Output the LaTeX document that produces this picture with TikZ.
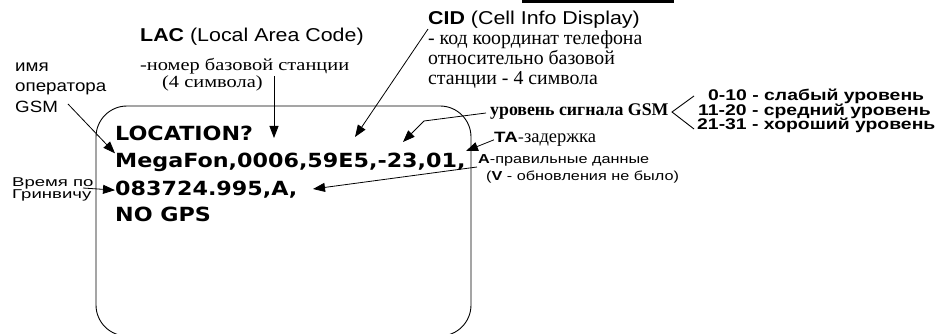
\documentclass[tikz,border=0pt]{standalone}
\usepackage{fontspec}
\setmainfont{Liberation Serif}
\newfontfamily\lblsans[FakeStretch=1.25]{Liberation Sans}
\newfontfamily\hdrsans[FakeStretch=1.15]{Liberation Sans}
\newfontfamily\widesans[FakeStretch=1.45]{Liberation Sans}
\newfontfamily\wideserif[FakeStretch=1.2]{Liberation Serif}
\newfontfamily\scrfont[FakeStretch=1.14]{DejaVu Sans}
\usetikzlibrary{arrows.meta}

\tikzset{
  lbl/.style={anchor=base west, inner sep=0pt},
  scr/.style={lbl, font=\scrfont\bfseries\fontsize{19.5}{20}\selectfont},
  hdr/.style={lbl, font=\hdrsans\fontsize{18.6}{19}\selectfont},
  note/.style={lbl, font=\fontsize{19.8}{20}\selectfont},
  lacnote/.style={lbl, font=\wideserif\fontsize{17}{18}\selectfont},
  side/.style={lbl, font=\hdrsans\fontsize{16.3}{17}\selectfont},
  gmt/.style={lbl, font=\widesans\fontsize{12.8}{13}\selectfont},
  small/.style={lbl, font=\lblsans\fontsize{13}{14}\selectfont},
  lvl/.style={lbl, font=\lblsans\bfseries\fontsize{15.5}{16}\selectfont},
  ptr/.style={line width=.8pt, -{Triangle[length=12pt,width=9pt]}}
}

\begin{document}
\begin{tikzpicture}[x=1pt,y=-1pt]
  \useasboundingbox (0,0) rectangle (946,334);
  % screen
  \draw[line width=.9pt, rounded corners=31pt] (96,106) rectangle (471,336);
  \fill (522,0) rectangle (674,3);

  \node[scr] (loc) at (115,141) {LOCATION?};
  \node[scr] (gsm) at (115,168) {MegaFon,0006,59E5,-23,01,};
  \node[scr] (utc) at (115,196) {083724.995,A,};
  \node[scr] (gps) at (115,222) {NO GPS};

  % labels
  \node[hdr] (lac) at (140,42) {\textbf{LAC} (Local Area Code)};
  \node[lacnote] (lac1) at (140,71) {-номер базовой станции};
  \node[lacnote] (lac2) at (162,87.5) {(4 символа)};

  \node[hdr] (cid) at (428,25) {\textbf{CID} (Cell Info Display)};
  \node[note] (cid1) at (428,45) {- код координат телефона};
  \node[note] (cid2) at (428,65) {относительно базовой};
  \node[note] (cid3) at (428,85) {станции - 4 символа};

  \node[side] (op1) at (15,72) {имя};
  \node[side] (op2) at (15,92) {оператора};
  \node[side] (op3) at (15,113) {GSM};

  \node[gmt] (gmt1) at (12,186.5) {Время по};
  \node[gmt] (gmt2) at (12,198.5) {Гринвичу};

  \node[lbl, font=\bfseries\fontsize{17.8}{18}\selectfont] (sig) at (490,116) {уровень сигнала GSM};
  \node[lvl] (lvl1) at (708,101) {0-10 - слабый уровень};
  \node[lvl] (lvl2) at (698,115.5) {11-20 - средний уровень};
  \node[lvl] (lvl3) at (697,130) {21-31 - хороший уровень};
  \draw[line width=.9pt] (694,96) -- (672,112) -- (694,129);

  \node[lbl, font=\fontsize{18.5}{19}\selectfont] (ta) at (494,143)
    {{\lblsans\fontsize{15}{16}\selectfont\textbf{TA}-}задержка};
  \node[small] (val1) at (478,164) {\textbf{A}-правильные данные};
  \node[small] (val2) at (486,180.5) {(\textbf{V} - обновления не было)};

  % pointers
  \coordinate (opfoot) at (68,104);
  \coordinate (lacfoot) at (274,76);
  \coordinate (lactip) at (274,138);
  \coordinate (cidtip) at (355,137);
  \coordinate (sigfoot) at (486,113);
  \coordinate (sigtip) at (403,142);
  \coordinate (tatip) at (466,151);
  \coordinate (valfoot) at (477,167);
  \coordinate (valtip) at (313,189);
  \coordinate (gmtfoot) at (83,188);

  \draw[ptr] (opfoot) -- (gsm.north west);
  \draw[ptr] (lacfoot) -- (lactip);
  \draw[ptr] (cid.south west) -- (cidtip);
  \draw[ptr] (sigfoot) -- (424,121) -- (sigtip);
  \draw[ptr] (ta.west) -- (tatip);
  \draw[ptr] (valfoot) -- (valtip);
  \draw[ptr] (gmtfoot) -- (utc.west);
\end{tikzpicture}
\end{document}
